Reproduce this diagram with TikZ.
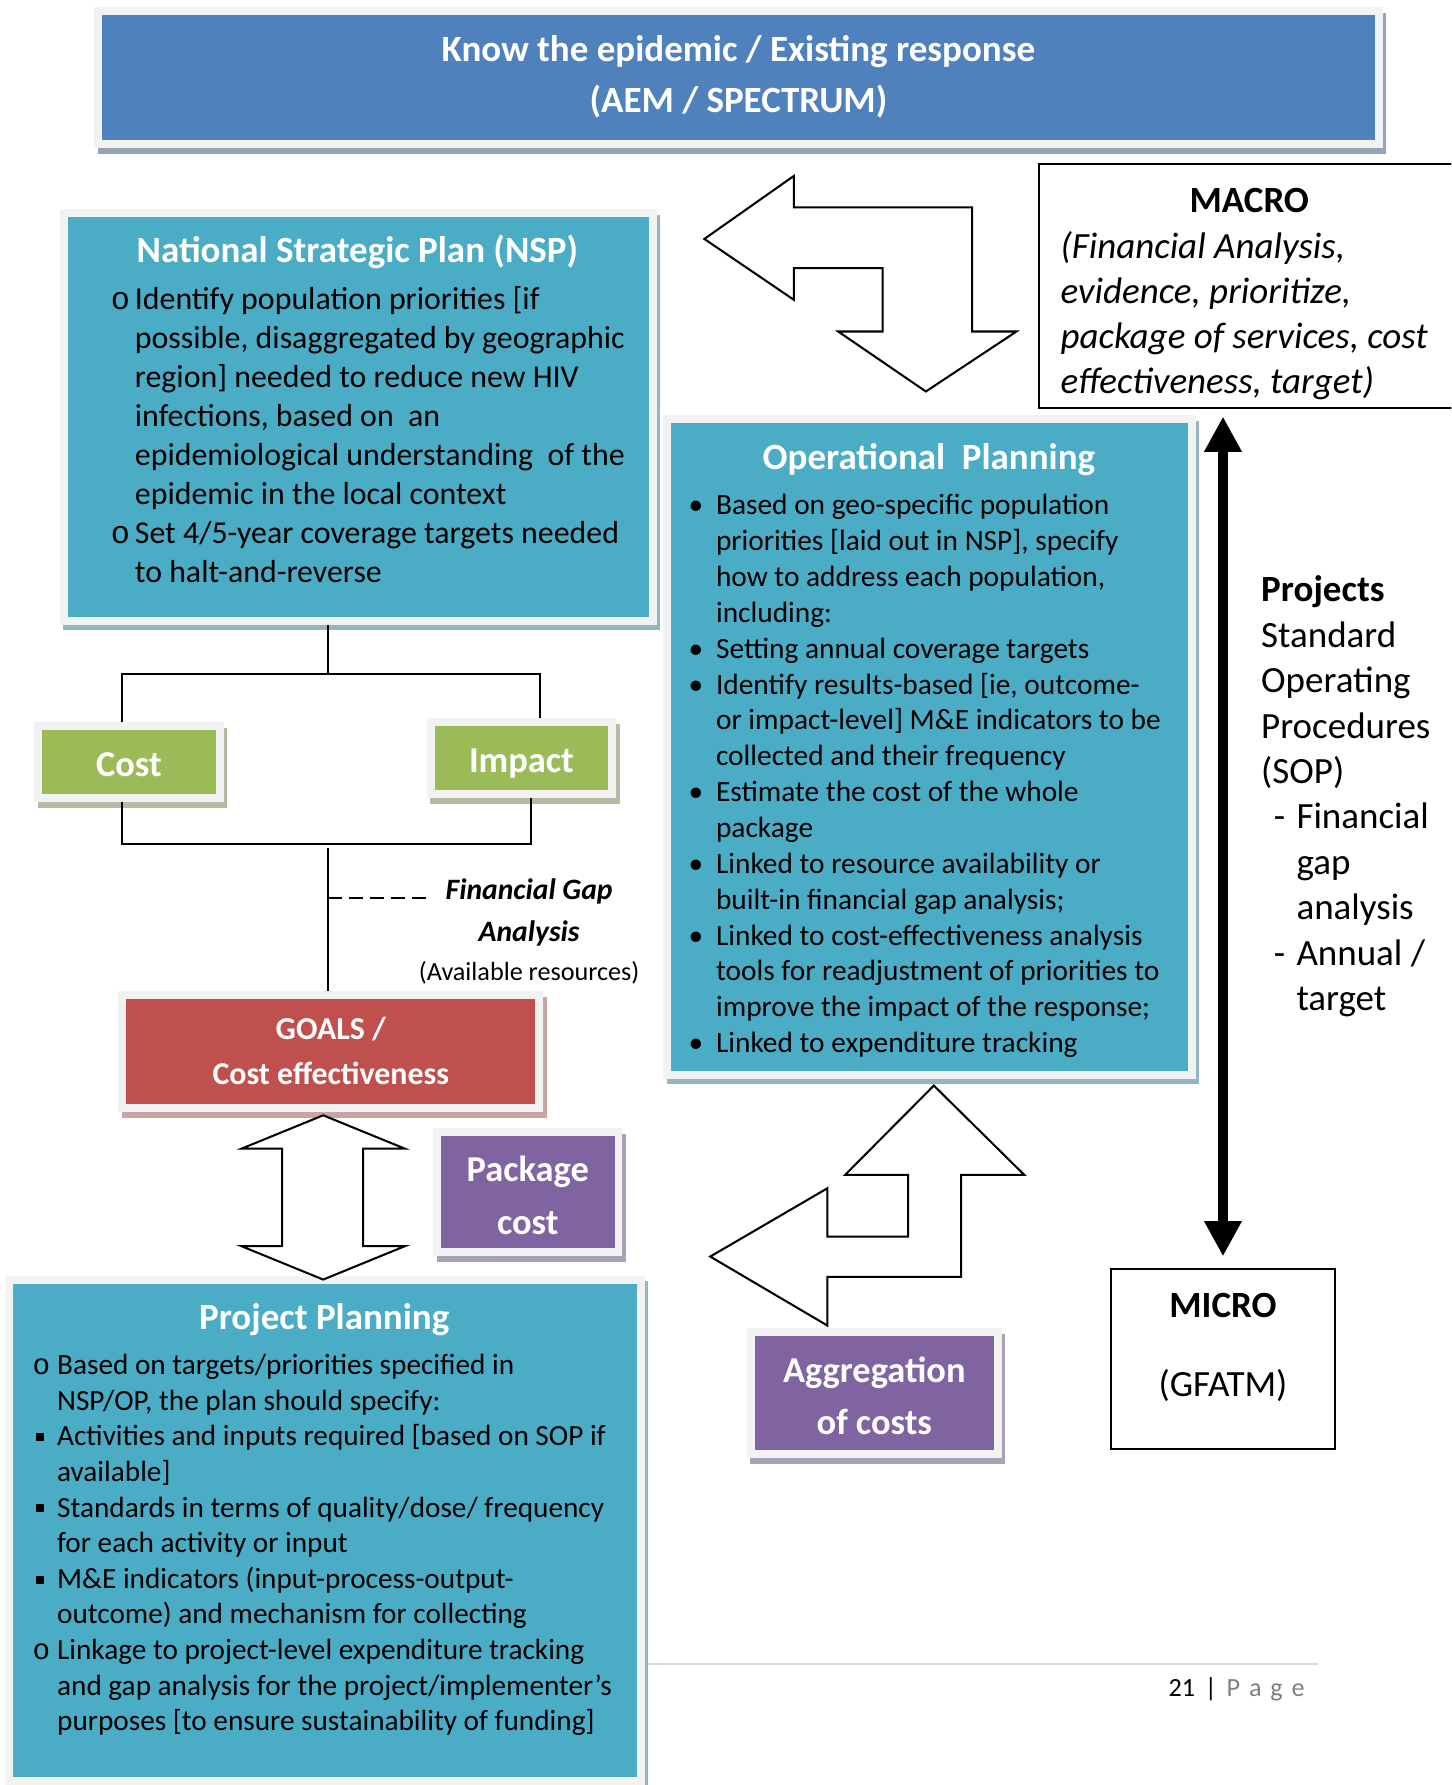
\documentclass[tikz,border=0pt]{standalone}
\usepackage{fontspec}
\setmainfont{Carlito}
\newfontfamily\bulletfont{Liberation Mono}
\usetikzlibrary{arrows.meta}

\definecolor{framegray}{HTML}{F2F2F2}
\definecolor{hdrblue}{HTML}{4F81BD}
\definecolor{hdrbluesh}{HTML}{93A3B8}
\definecolor{planteal}{HTML}{4BACC6}
\definecolor{plantealsh}{HTML}{95B5C0}
\definecolor{costgreen}{HTML}{9BBB59}
\definecolor{costgreensh}{HTML}{B2BCA2}
\definecolor{goalred}{HTML}{C0504D}
\definecolor{goalredsh}{HTML}{C8A4A3}
\definecolor{pkgpurple}{HTML}{8064A2}
\definecolor{pkgpurplesh}{HTML}{A9A1B7}
\definecolor{footgray}{HTML}{D9D9D9}
\definecolor{pagegray}{HTML}{7F7F7F}

% font size helper: size and baseline skip in pt
\newcommand\fs[2]{\fontsize{#1}{#2}\selectfont}

% bullets
\newcommand\nob{\makebox[21.2pt][l]{\bulletfont o}}
\newcommand\opb{\makebox[24pt][l]{\textbullet}}
\newcommand\pob{\makebox[21.6pt][l]{\bulletfont o}}
\newcommand\psq{\makebox[21.6pt][l]{\hspace*{2.8pt}\rule[4.2pt]{7pt}{7pt}}}
\newcommand\sopdash{\makebox[31pt][l]{\hspace*{11pt}-}}

% framed, shadowed panel: name, x1, y1, x2, y2 (outer frame), fill, shadow
\newcommand\panel[7]{%
  \fill[#7] (#2+3,#3+5) rectangle (#4+3,#5+5);
  \node[panelframe, fill=#6, minimum width={#4-#2-7}, minimum height={#5-#3-7}]
    (#1) at ({(#2+#4)/2},{(#3+#5)/2}) {};
}

\begin{document}
\begin{tikzpicture}[x=1pt,y=-1pt,
  panelframe/.style={draw=framegray, line width=7pt, inner sep=0pt, outer sep=3.5pt},
  conn/.style={draw=black, line width=1.6pt},
  blockarrow/.style={draw=black, line width=1.8pt, fill=white, line join=miter},
  plainbox/.style={draw=black, line width=1.8pt, fill=white, inner sep=0pt},
  bigarrow/.style={line width=8.5pt,
     {Triangle[length=31pt,width=31pt]}-{Triangle[length=31pt,width=31pt]}},
  txt/.style={inner sep=0pt, outer sep=0pt, anchor=base},
  txtl/.style={inner sep=0pt, outer sep=0pt, anchor=base west},
]
\useasboundingbox (0,0) rectangle (1275,1568);
\clip (0,0) rectangle (1275,1568);

% page footer rule
\draw[footgray, line width=1.5pt] (300,1461.5) -- (1157.9,1461.5);

% ---------- panels ----------
\panel{epi}{82.8}{6.4}{1214.5}{130.2}{hdrblue}{hdrbluesh}
\panel{nsp}{52.6}{183.8}{577}{548.8}{planteal}{plantealsh}
\panel{op}{582.6}{364.6}{1050.4}{947.5}{planteal}{plantealsh}
\panel{cost}{30}{634.6}{196.4}{704.8}{costgreen}{costgreensh}
\panel{impact}{374.9}{631.1}{541.2}{701}{costgreen}{costgreensh}
\panel{goals}{104}{870.8}{477.3}{977.1}{goalred}{goalredsh}
\panel{pkg}{380.5}{990.8}{546.8}{1103.5}{pkgpurple}{pkgpurplesh}
\panel{agg}{655.9}{1166.7}{880.2}{1280.6}{pkgpurple}{pkgpurplesh}
\panel{pp}{4.7}{1120.5}{566.5}{1568}{planteal}{plantealsh}

% ---------- plain boxes ----------
\node[plainbox, minimum width=380pt, minimum height=213.7pt] (macro) at (1102.7,251.15) {};
\node[plainbox, minimum width=197.4pt, minimum height=157.7pt] (micro) at (1074.3,1193.85) {};

% ---------- panel texts ----------
\node[txt, text=white, font=\fs{32.5}{44.5}\bfseries] (epitext) at (648.65,54.2)
  {\begin{tabular}[t]{@{}c@{}}Know the epidemic / Existing response\\(AEM / SPECTRUM)\end{tabular}};

\node[txt, text=white, font=\fs{32.5}{40}\bfseries] (nsptitle) at (313.9,230.8)
  {National Strategic Plan (NSP)};
\node[txtl, font=\fs{28}{34.2}] (nspbody) at (97.3,272.3)
  {\begin{tabular}[t]{@{}l@{}l@{}}
  \nob & Identify population priorities [if\\
       & possible, disaggregated by geographic\\
       & region] needed to reduce new HIV\\
       & infections, based on\ \ an\\
       & epidemiological understanding\ \ of the\\
       & epidemic in the local context\\
  \nob & Set 4/5-year coverage targets needed\\
       & to halt-and-reverse
  \end{tabular}};

\node[txt, text=white, font=\fs{32.5}{40}\bfseries] (optitle) at (816,412.6)
  {Operational\ \ Planning};
\node[txtl, font=\fs{25.8}{31.5}] (opbody) at (605,452.2)
  {\begin{tabular}[t]{@{}l@{}l@{}}
  \opb & Based on geo-specific population\\
       & priorities [laid out in NSP], specify\\
       & how to address each population,\\
       & including:\\
  \opb & Setting annual coverage targets\\
  \opb & Identify results-based [ie, outcome-\\
       & or impact-level] M\&E indicators to be\\
       & collected and their frequency\\
  \opb & Estimate the cost of the whole\\
       & package\\
  \opb & Linked to resource availability or\\
       & built-in financial gap analysis;\\
  \opb & Linked to cost-effectiveness analysis\\
       & tools for readjustment of priorities to\\
       & improve the impact of the response;\\
  \opb & Linked to expenditure tracking
  \end{tabular}};

\node[txt, text=white, font=\fs{32}{40}\bfseries] (costtext) at (113.2,682) {Cost};
\node[txt, text=white, font=\fs{32}{40}\bfseries] (impacttext) at (458,678.4) {Impact};

\node[txt, text=white, font=\fs{28}{39.6}\bfseries] (goalstext) at (290.6,913.4)
  {\begin{tabular}[t]{@{}c@{}}GOALS /\\Cost effectiveness\end{tabular}};

\node[txt, text=white, font=\fs{32}{46.8}\bfseries] (pkgtext) at (463.6,1037.6)
  {\begin{tabular}[t]{@{}c@{}}Package\\cost\end{tabular}};

\node[txt, text=white, font=\fs{32}{46}\bfseries] (aggtext) at (768,1214)
  {\begin{tabular}[t]{@{}c@{}}Aggregation\\of costs\end{tabular}};

\node[txt, text=white, font=\fs{32.5}{40}\bfseries] (pptitle) at (284.8,1168.2)
  {Project Planning};
\node[txtl, font=\fs{25.7}{31.3}] (ppbody) at (28.6,1207.4)
  {\begin{tabular}[t]{@{}l@{}l@{}}
  \pob & Based on targets/priorities specified in\\
       & NSP/OP, the plan should specify:\\
  \psq & Activities and inputs required [based on SOP if\\
       & available]\\
  \psq & Standards in terms of quality/dose/ frequency\\
       & for each activity or input\\
  \psq & M\&E indicators (input-process-output-\\
       & outcome) and mechanism for collecting\\
  \pob & Linkage to project-level expenditure tracking\\
       & and gap analysis for the project/implementer’s\\
       & purposes [to ensure sustainability of funding]
  \end{tabular}};

% ---------- MACRO / MICRO texts ----------
\node[txt, font=\fs{32.5}{40}\bfseries] (macrotitle) at (1097.4,186.3) {MACRO};
\node[txtl, font=\fs{32.5}{39.7}\itshape] (macrotext) at (931.7,227)
  {\begin{tabular}[t]{@{}l@{}}
  (Financial Analysis,\\
  evidence, prioritize,\\
  package of services, cost\\
  effectiveness, target)
  \end{tabular}};

\node[txt, font=\fs{32.5}{40}\bfseries] (microtitle) at (1074.3,1157.6) {MICRO};
\node[txt, font=\fs{32.5}{40}] (microtext) at (1074.3,1227) {(GFATM)};

% ---------- projects column ----------
\node[txtl, font=\fs{32.5}{39.9}] (projtext) at (1107.9,528.6)
  {\begin{tabular}[t]{@{}l@{}}
  \textbf{Projects}\\
  Standard\\
  Operating\\
  Procedures\\
  (SOP)\\
  \sopdash Financial\\
  \hspace*{31pt}gap\\
  \hspace*{31pt}analysis\\
  \sopdash Annual /\\
  \hspace*{31pt}target
  \end{tabular}};

% ---------- financial gap label ----------
\node[txt, font=\fs{26}{36.6}\bfseries\itshape] (gaplabel) at (464.8,790)
  {\begin{tabular}[t]{@{}c@{}}Financial Gap\\Analysis\end{tabular}};
\node[txt, font=\fs{23}{28}] (gapnote) at (464.8,861) {(Available resources)};

% ---------- connectors ----------
\coordinate (split) at (288,592);
\coordinate (cl) at (106.9,592);
\coordinate (cr) at (474.6,592);
\draw[conn] (nsp.south -| split) -- (split);
\draw[conn] (cost.north -| cl) -- (cl) -- (cr) -- (impact.north -| cr);

\coordinate (ml) at (106.9,741.2);
\coordinate (mr) at (466.1,741.2);
\draw[conn] (cost.south -| ml) -- (ml) -- (mr) -- (impact.south -| mr);

\coordinate (gtop) at (288,745);
\draw[conn] (gtop) -- (goals.north -| gtop);
\coordinate (dash0) at (288,788.8);
\coordinate (dash1) at (377.4,788.8);
\draw[conn, dash pattern=on 12.5pt off 6pt] (dash0) -- (dash1);

% MACRO <-> MICRO
\draw[bigarrow, shorten <=7pt, shorten >=10.5pt] (micro.north |- macro.south) -- (micro.north);

% ---------- block arrows ----------
% left / down arrow between the header and operational planning
\draw[blockarrow] (618.7,209.9) -- (697.4,154.5) -- (697.4,182.1) -- (854,182.1)
  -- (854,291.2) -- (892.9,291.2) -- (813.3,343.9) -- (736.3,291.2)
  -- (775.3,291.2) -- (775.3,235.6) -- (697.4,235.6) -- (697.4,263.4) -- cycle;

% up / left arrow below operational planning
\draw[blockarrow] (820.3,953.6) -- (899.7,1032) -- (844.3,1032) -- (844.3,1121.7)
  -- (726.8,1121.7) -- (726.8,1164.4) -- (623.9,1103.8) -- (726.8,1043.8)
  -- (726.8,1086.2) -- (797.8,1086.2) -- (797.8,1032) -- (742.4,1032) -- cycle;

% up / down arrow between goals and project planning
\draw[blockarrow] (283.9,979.7) -- (355.6,1009) -- (319,1009) -- (319,1094.7)
  -- (355.6,1094.7) -- (283.9,1124) -- (212.2,1094.7) -- (247.9,1094.7)
  -- (247.9,1009) -- (212.2,1009) -- cycle;

% ---------- page number ----------
\node[txtl, font=\fs{23}{28}] (pagenum) at (1026.5,1489.9)
  {21\hspace{8.6pt}|\hspace{8.5pt}\textcolor{pagegray}{P\hspace{7.8pt}a\hspace{7.8pt}g\hspace{7.8pt}e}};
\end{tikzpicture}
\end{document}
